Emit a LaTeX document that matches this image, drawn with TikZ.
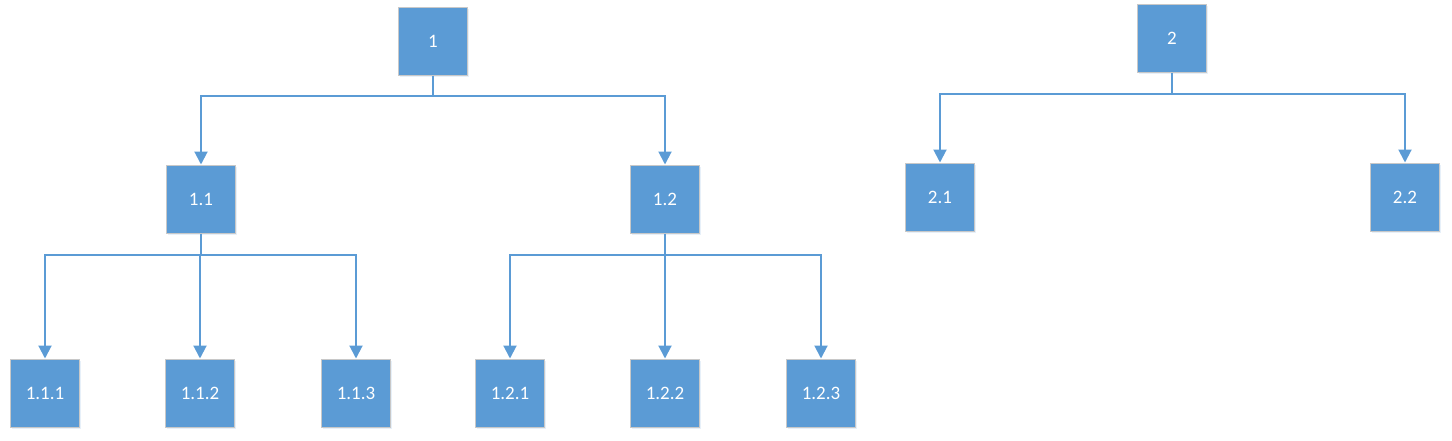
\documentclass[tikz,border=0pt]{standalone}
\usepackage{fontspec}
\setmainfont{Carlito}
\usetikzlibrary{arrows.meta,shadows,positioning}
\definecolor{boxblue}{HTML}{5B9BD5}
\definecolor{boxedge}{HTML}{C8C8C8}
\tikzset{
  treebox/.style={rectangle, fill=boxblue, draw=boxedge, line width=1pt,
    minimum width=69pt, minimum height=68pt, inner sep=0pt,
    text=white, font=\fontsize{19pt}{22pt}\selectfont,
    drop shadow={shadow xshift=1.5pt, shadow yshift=-2pt, opacity=0.15, fill=boxblue}},
  link/.style={draw=boxblue, line width=2pt},
  arrowlink/.style={link, -{Triangle[width=13pt,length=13pt]}}
}
\begin{document}
\begin{tikzpicture}[x=1pt,y=-1pt]
\useasboundingbox (0,0) rectangle (1452,440);
\node[treebox] (n1) at (433,41) {1};
\node[treebox] (n11) at (201,199) {1.1};
\node[treebox] (n12) at (665,199) {1.2};
\node[treebox] (n111) at (45,393) {1.1.1};
\node[treebox] (n112) at (200,393) {1.1.2};
\node[treebox] (n113) at (356,393) {1.1.3};
\node[treebox] (n121) at (510,393) {1.2.1};
\node[treebox] (n122) at (665,393) {1.2.2};
\node[treebox] (n123) at (821,393) {1.2.3};
\node[treebox] (n2) at (1172,38) {2};
\node[treebox] (n21) at (940,197) {2.1};
\node[treebox] (n22) at (1405,197) {2.2};

\coordinate (j1) at (433,96);
\coordinate (j11) at (201,255);
\coordinate (j12) at (665,255);
\coordinate (j2) at (1172,94);

\draw[link] (n1.south) -- (j1);
\draw[arrowlink] (j1) -| (n11.north);
\draw[arrowlink] (j1) -| (n12.north);

\draw[link] (n11.south) -- (j11);
\draw[arrowlink] (j11) -| (n111.north);
\draw[arrowlink] (j11) -| (n112.north);
\draw[arrowlink] (j11) -| (n113.north);

\draw[link] (n12.south) -- (j12);
\draw[arrowlink] (j12) -| (n121.north);
\draw[arrowlink] (j12) -| (n122.north);
\draw[arrowlink] (j12) -| (n123.north);

\draw[link] (n2.south) -- (j2);
\draw[arrowlink] (j2) -| (n21.north);
\draw[arrowlink] (j2) -| (n22.north);
\end{tikzpicture}
\end{document}
